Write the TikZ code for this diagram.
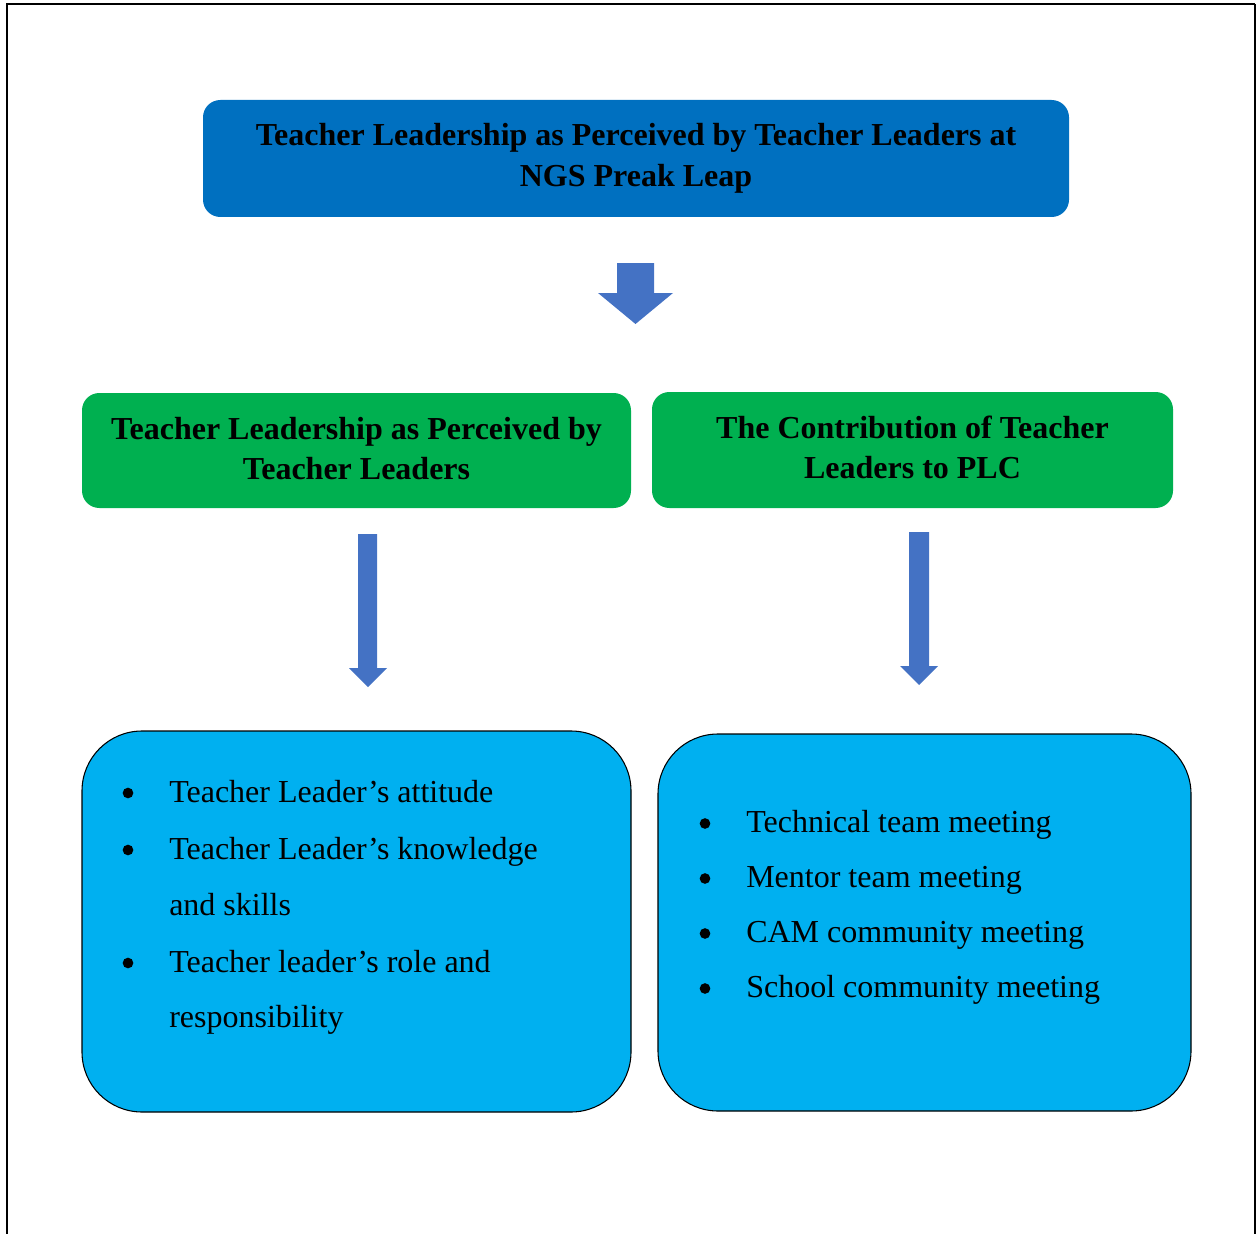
\documentclass[tikz,border=0pt]{standalone}
\usepackage{fontspec}
\setmainfont{Liberation Serif}
\definecolor{topblue}{HTML}{0070C0}
\definecolor{midgreen}{HTML}{00B050}
\definecolor{lightblue}{HTML}{00B0F0}
\definecolor{arrowblue}{HTML}{4472C4}
\begin{document}
\begin{tikzpicture}[x=0.75pt,y=-0.75pt,
  headbox/.style={fill=topblue,rounded corners=13pt,inner sep=0pt},
  greenbox/.style={fill=midgreen,rounded corners=13pt,inner sep=0pt},
  listbox/.style={fill=lightblue,draw=black,line width=0.8pt,rounded corners=45pt,inner sep=0pt},
  titletext/.style={anchor=base,inner sep=0pt,font=\fontsize{24}{30}\selectfont\bfseries},
  itemtext/.style={anchor=base west,inner sep=0pt,font=\fontsize{24}{30}\selectfont},
  dot/.style={circle,fill=black,inner sep=0pt,minimum size=8pt},
  blockarrow/.style={fill=arrowblue}]
\useasboundingbox (0,0) rectangle (1257,1234);
% frame
\draw[line width=1.6pt] (7,1234) -- (7,4) -- (1255,4);
\draw[line width=1.1pt] (1255,4) -- (1255,1234);

% boxes
\node[headbox,minimum width=649.5pt,minimum height=87.75pt] (top) at (636,158.5) {};
\node[greenbox,minimum width=411.75pt,minimum height=86.25pt] (gl) at (356.5,450.5) {};
\node[greenbox,minimum width=390.75pt,minimum height=87pt] (gr) at (912.5,450) {};
\node[listbox,minimum width=411.75pt,minimum height=285.75pt] (bl) at (356.5,921.5) {};
\node[listbox,minimum width=399.75pt,minimum height=282.75pt] (br) at (924.5,922.5) {};

% titles
\node[titletext] (t1) at (636,146) {Teacher Leadership as Perceived by Teacher Leaders at};
\node[titletext] (t2) at (636,187) {NGS Preak Leap};
\node[titletext] (gl1) at (356.5,439) {Teacher Leadership as Perceived by};
\node[titletext] (gl2) at (356.5,479) {Teacher Leaders};
\node[titletext] (gr1) at (912.5,438) {The Contribution of Teacher};
\node[titletext] (gr2) at (912.5,478) {Leaders to PLC};

% block arrows
\fill[blockarrow] (617,263) -- (654,263) -- (654,293) -- (673,293) -- (635.5,324) -- (598,293) -- (617,293) -- cycle;
\fill[blockarrow] (358,534) -- (377,534) -- (377,668) -- (387,668) -- (368,687) -- (349,668) -- (358,668) -- cycle;
\fill[blockarrow] (909,532) -- (929,532) -- (929,666) -- (938,666) -- (919,685) -- (900,666) -- (909,666) -- cycle;

% left list
\node[dot] (bd1) at (128,793) {};
\node[itemtext] (li1) at (169,802) {Teacher Leader’s attitude};
\node[dot] (bd2) at (128,850) {};
\node[itemtext] (li2) at (169,859) {Teacher Leader’s knowledge};
\node[itemtext] (li2b) at (169,915) {and skills};
\node[dot] (bd3) at (128,963) {};
\node[itemtext] (li3) at (169,972) {Teacher leader’s role and};
\node[itemtext] (li3b) at (169,1027) {responsibility};

% right list
\node[dot] (rd1) at (705,823.5) {};
\node[itemtext] (ri1) at (746,832.5) {Technical team meeting};
\node[dot] (rd2) at (705,878.5) {};
\node[itemtext] (ri2) at (746,887.5) {Mentor team meeting};
\node[dot] (rd3) at (705,933.5) {};
\node[itemtext] (ri3) at (746,942.5) {CAM community meeting};
\node[dot] (rd4) at (705,988.5) {};
\node[itemtext] (ri4) at (746,997.5) {School community meeting};
\end{tikzpicture}
\end{document}
